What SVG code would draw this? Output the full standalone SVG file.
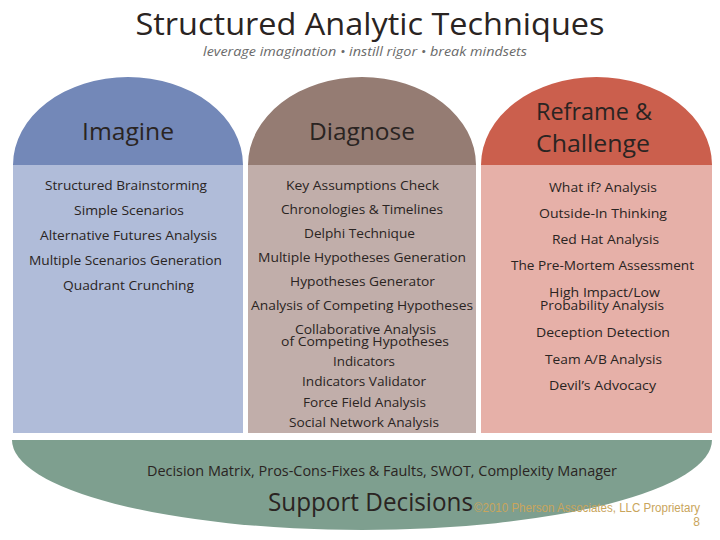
<svg xmlns="http://www.w3.org/2000/svg" width="720" height="540" viewBox="0 0 720 540">
<style>
text{font-family:"Open Sans","Liberation Sans",sans-serif;fill:#2a2422;text-anchor:middle}
.item{font-size:13px}
.tight{font-size:12px}
.head{font-size:24px}
.foot{font-family:"Liberation Sans",Arial,sans-serif;font-size:12px;fill:#c9a55c;text-anchor:end}
</style>
<rect width="720" height="540" fill="#ffffff"/>
<g id="title">
<text x="370" y="35" font-size="31" textLength="469" lengthAdjust="spacingAndGlyphs">Structured Analytic Techniques</text>
<text x="365" y="56" font-size="13" font-style="italic" style="fill:#6a6a6a" textLength="324" lengthAdjust="spacingAndGlyphs">leverage imagination • instill rigor • break mindsets</text>
</g>
<g id="imagine">
<rect x="13" y="165" width="230" height="268" fill="#b0bcd9"/>
<path d="M13,165 A115,88 0 0 1 243,165 Z" fill="#7388b8"/>
<text class="head" x="128" y="140" textLength="92" lengthAdjust="spacingAndGlyphs">Imagine</text>
<text class="item" x="126" y="190" textLength="162" lengthAdjust="spacingAndGlyphs">Structured Brainstorming</text>
<text class="item" x="129" y="215" textLength="110" lengthAdjust="spacingAndGlyphs">Simple Scenarios</text>
<text class="item" x="128.5" y="240" textLength="177" lengthAdjust="spacingAndGlyphs">Alternative Futures Analysis</text>
<text class="item" x="125.5" y="265" textLength="193" lengthAdjust="spacingAndGlyphs">Multiple Scenarios Generation</text>
<text class="item" x="128.5" y="290" textLength="131" lengthAdjust="spacingAndGlyphs">Quadrant Crunching</text>
</g>
<g id="diagnose">
<rect x="248" y="165" width="228" height="268" fill="#c1aeaa"/>
<path d="M248,165 A114,88 0 0 1 476,165 Z" fill="#957c73"/>
<text class="head" x="362" y="140" textLength="106" lengthAdjust="spacingAndGlyphs">Diagnose</text>
<text class="item" x="362.5" y="190" textLength="153" lengthAdjust="spacingAndGlyphs">Key Assumptions Check</text>
<text class="item" x="362" y="214" textLength="162" lengthAdjust="spacingAndGlyphs">Chronologies &amp; Timelines</text>
<text class="item" x="359.5" y="238" textLength="111" lengthAdjust="spacingAndGlyphs">Delphi Technique</text>
<text class="item" x="362" y="262" textLength="208" lengthAdjust="spacingAndGlyphs">Multiple Hypotheses Generation</text>
<text class="item" x="362.5" y="286" textLength="145" lengthAdjust="spacingAndGlyphs">Hypotheses Generator</text>
<text class="item" x="362" y="310" textLength="222" lengthAdjust="spacingAndGlyphs">Analysis of Competing Hypotheses</text>
<text class="item tight" x="365.5" y="334" textLength="141" lengthAdjust="spacingAndGlyphs">Collaborative Analysis</text>
<text class="item tight" x="365" y="346" textLength="168" lengthAdjust="spacingAndGlyphs">of Competing Hypotheses</text>
<text class="item" x="364" y="366" textLength="62" lengthAdjust="spacingAndGlyphs">Indicators</text>
<text class="item" x="364" y="386" textLength="124" lengthAdjust="spacingAndGlyphs">Indicators Validator</text>
<text class="item" x="364.5" y="407" textLength="123" lengthAdjust="spacingAndGlyphs">Force Field Analysis</text>
<text class="item" x="364" y="427" textLength="150" lengthAdjust="spacingAndGlyphs">Social Network Analysis</text>
</g>
<g id="reframe">
<rect x="481" y="165" width="231" height="268" fill="#e6b0a8"/>
<path d="M481,165 A115.5,88 0 0 1 712,165 Z" fill="#cb5f4d"/>
<text class="head" x="594" y="120" textLength="116" lengthAdjust="spacingAndGlyphs">Reframe &amp;</text>
<text class="head" x="593" y="152" textLength="114" lengthAdjust="spacingAndGlyphs">Challenge</text>
<text class="item" x="603" y="192" textLength="108" lengthAdjust="spacingAndGlyphs">What if? Analysis</text>
<text class="item" x="603" y="218" textLength="128" lengthAdjust="spacingAndGlyphs">Outside-In Thinking</text>
<text class="item" x="605.5" y="244" textLength="107" lengthAdjust="spacingAndGlyphs">Red Hat Analysis</text>
<text class="item" x="602.5" y="270" textLength="183" lengthAdjust="spacingAndGlyphs">The Pre-Mortem Assessment</text>
<text class="item tight" x="604.5" y="297" textLength="111" lengthAdjust="spacingAndGlyphs">High Impact/Low</text>
<text class="item tight" x="602" y="310" textLength="124" lengthAdjust="spacingAndGlyphs">Probability Analysis</text>
<text class="item" x="603" y="337" textLength="134" lengthAdjust="spacingAndGlyphs">Deception Detection</text>
<text class="item" x="603.5" y="364" textLength="117" lengthAdjust="spacingAndGlyphs">Team A/B Analysis</text>
<text class="item" x="602.5" y="390" textLength="107" lengthAdjust="spacingAndGlyphs">Devil’s Advocacy</text>
</g>
<g id="support">
<path d="M12,440 L712,440 A350,90 0 0 1 12,440 Z" fill="#7e9f8f"/>
<text x="382" y="476" font-size="14" textLength="470" lengthAdjust="spacingAndGlyphs">Decision Matrix, Pros-Cons-Fixes &amp; Faults, SWOT, Complexity Manager</text>
<text x="370.5" y="511" font-size="25" textLength="205" lengthAdjust="spacingAndGlyphs">Support Decisions</text>
</g>
<g id="footer">
<text class="foot" x="700" y="512" textLength="226" lengthAdjust="spacingAndGlyphs">©2010 Pherson Associates, LLC  Proprietary</text>
<text class="foot" x="700" y="526">8</text>
</g>
</svg>
